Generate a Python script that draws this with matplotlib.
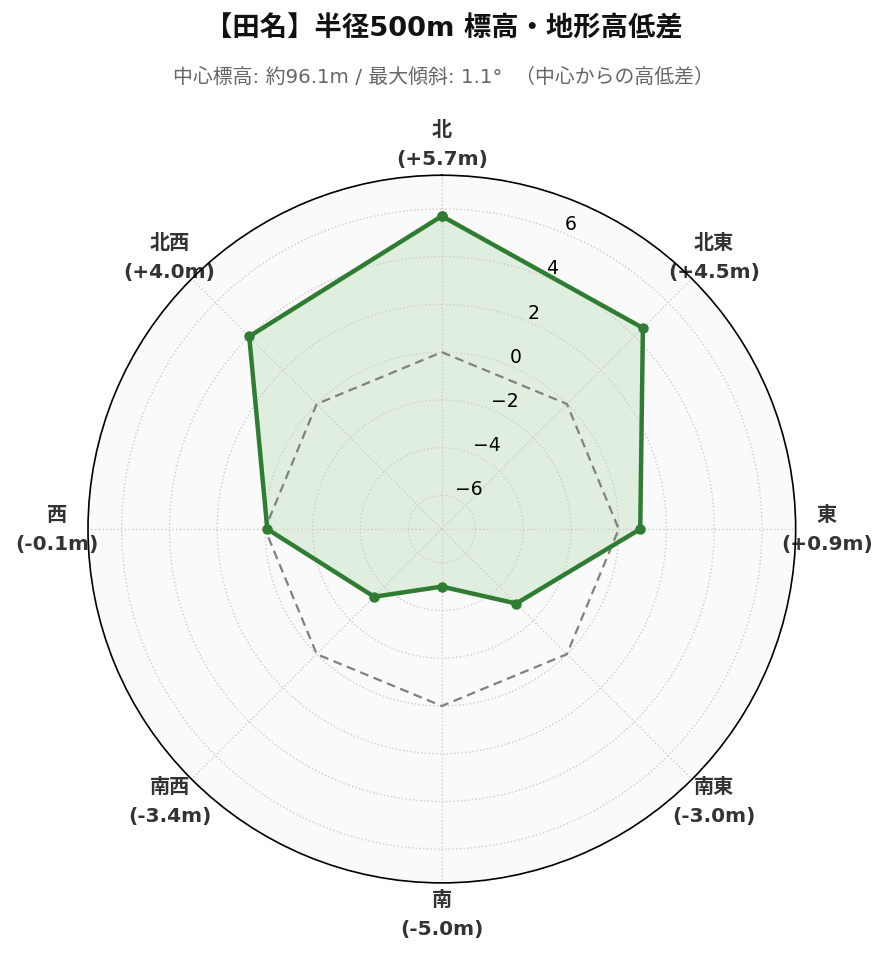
import numpy as np
import matplotlib
matplotlib.use("Agg")
import matplotlib.pyplot as plt

plt.rcParams['font.family'] = ['DejaVu Sans', 'Noto Sans CJK JP']

directions = ["北", "北東", "東", "南東", "南", "南西", "西", "北西"]
values = [5.7, 4.5, 0.9, -3.0, -5.0, -3.4, -0.1, 4.0]
rticks = [-6, -4, -2, 0, 2, 4, 6]
title = "【田名】半径500m 標高・地形高低差"
subtitle = "中心標高: 約96.1m / 最大傾斜: 1.1°  （中心からの高低差）"

n = len(directions)
angles = np.linspace(0, 2 * np.pi, n, endpoint=False)
ang_c = np.concatenate([angles, angles[:1]])
val_c = np.concatenate([values, values[:1]])
zero_c = np.zeros_like(ang_c)

fig = plt.figure(figsize=(8.89, 9.62), dpi=100)
ax = fig.add_axes([0.099, 0.081, 0.796, 0.736], projection='polar')
ax.set_theta_zero_location('N')
ax.set_theta_direction(-1)
ax.set_facecolor('#fafafa')
lim = max(abs(v) for v in values) * 1.3
ax.set_ylim(-lim, lim)

ax.plot(ang_c, zero_c, linestyle='--', color='gray', linewidth=1.6, dashes=(4, 2.5))
ax.fill(ang_c, val_c, color='#4caf50', alpha=0.15)
ax.plot(ang_c, val_c, color='#2e7d32', linewidth=3.2, marker='o', markersize=6.5)

ax.set_xticks(angles)
labels = [f"{d}\n({v:+.1f}m)" for d, v in zip(directions, values)]
ax.set_xticklabels(labels, fontsize=14.5, fontweight='bold', color='#333333', linespacing=1.65)
ax.tick_params(axis='x', pad=12)
ax.set_yticks(rticks)
ax.set_yticklabels([f"\u2212{abs(t)}" if t < 0 else str(t) for t in rticks], fontsize=13.5)
ax.set_rlabel_position(22.5)
ax.grid(True, linestyle=':', color='#cccccc', linewidth=1.0)
ax.spines['polar'].set_color('black')
ax.spines['polar'].set_linewidth(1.2)

fig.text(0.499, 0.970, title, ha='center', va='center', fontsize=19.7, fontweight='bold', color='#111111')
fig.text(0.499, 0.920, subtitle, ha='center', va='center', fontsize=14.3, color='#666666')

fig.savefig('out.png', dpi=100)
